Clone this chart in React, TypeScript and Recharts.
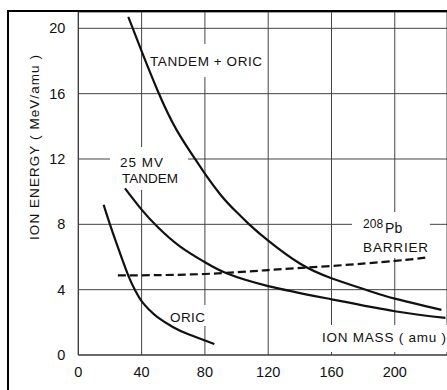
import React from 'react';
import { LineChart, Line, XAxis, YAxis, CartesianGrid, ReferenceArea } from 'recharts';

// ---- axis ticks ----
const xTicks = [0, 40, 80, 120, 160, 200];
const yTicks = [0, 4, 8, 12, 16, 20];

// ---- series (ion mass in amu, ion energy in MeV/amu) ----
const oricMass = [16, 20, 25, 31.6, 36, 40, 45, 50, 60, 70, 86];
const oricEnergy = [9.2, 8.0, 6.6, 4.86, 3.95, 3.3, 2.75, 2.32, 1.7, 1.25, 0.67];

const tandemMass = [29.5, 40, 50, 64.2, 80, 93.7, 120, 160, 200, 232];
const tandemEnergy = [10.2, 8.9, 7.85, 6.65, 5.68, 5.0, 4.22, 3.41, 2.68, 2.27];

const tandemOricMass = [31.6, 40, 50.5, 62, 74.5, 80, 90, 100, 108, 120, 140, 160, 183, 200, 229.5];
const tandemOricEnergy = [20.7, 18.6, 16.1, 13.8, 11.9, 11.1, 9.8, 8.75, 8.0, 7.0, 5.6, 4.7, 3.95, 3.45, 2.76];

const barrierMass = [25, 40, 80, 120, 160, 200, 221];
const barrierEnergy = [4.87, 4.88, 4.96, 5.2, 5.45, 5.76, 5.98];

const toPoints = (xs: number[], ys: number[]) => xs.map((x, i) => ({ mass: x, energy: ys[i] }));

const oricData = toPoints(oricMass, oricEnergy);
const tandemData = toPoints(tandemMass, tandemEnergy);
const tandemOricData = toPoints(tandemOricMass, tandemOricEnergy);
const barrierData = toPoints(barrierMass, barrierEnergy);

const FONT = '"Liberation Sans", Arial, Helvetica, sans-serif';
const INK = '#111';

type VB = { x: number; y: number; width: number; height: number };

const labelTandemOric = (p: any) => {
  const v: VB = p.viewBox;
  return (
    <text x={v.x + 4} y={v.y + 22} fontFamily={FONT} fontSize={13.5} fill={INK} textLength={112} lengthAdjust="spacing">
      TANDEM + ORIC
    </text>
  );
};

const label25MV = (p: any) => {
  const v: VB = p.viewBox;
  return (
    <g fontFamily={FONT} fontSize={13.5} fill={INK}>
      <text x={v.x + 10} y={v.y + 20} textLength={43} lengthAdjust="spacing">25 MV</text>
      <text x={v.x + 12} y={v.y + 36} textLength={56} lengthAdjust="spacing">TANDEM</text>
    </g>
  );
};

const labelBarrier = (p: any) => {
  const v: VB = p.viewBox;
  return (
    <g fontFamily={FONT} fill={INK}>
      <text x={v.x + 11} y={v.y + 16} fontSize={12}>208</text>
      <text x={v.x + 33} y={v.y + 21} fontSize={14}>Pb</text>
      <text x={v.x + 11} y={v.y + 40} fontSize={13.5} textLength={65} lengthAdjust="spacing">BARRIER</text>
    </g>
  );
};

const labelOric = (p: any) => {
  const v: VB = p.viewBox;
  return (
    <text x={v.x + 4} y={v.y + 17} fontFamily={FONT} fontSize={13.5} fill={INK} textLength={35} lengthAdjust="spacing">
      ORIC
    </text>
  );
};

const labelMass = (p: any) => {
  const v: VB = p.viewBox;
  return (
    <text x={v.x + 7} y={v.y + 17} fontFamily={FONT} fontSize={13.5} fill={INK} textLength={124} lengthAdjust="spacing">
      ION MASS ( amu )
    </text>
  );
};

const yLabel = (p: any) => {
  const v: VB = p.viewBox;
  const cx = v.x + 34;
  const cy = 147.5;
  return (
    <text
      x={cx}
      y={cy}
      transform={`rotate(-90, ${cx}, ${cy})`}
      textAnchor="middle"
      dominantBaseline="central"
      fontFamily={FONT}
      fontSize={13.5}
      fill={INK}
      textLength={185}
      lengthAdjust="spacing"
    >
      ION ENERGY ( MeV/amu )
    </text>
  );
};

export default function App() {
  return (
    <div style={{ position: 'absolute', left: 0, top: 0, width: 447, height: 390, background: '#fff' }}>
      <LineChart width={447} height={390} margin={{ top: 12, right: 0, bottom: 0, left: 0 }}>
        <CartesianGrid stroke="#444" strokeWidth={1} />
        <XAxis
          type="number"
          dataKey="mass"
          domain={[0, 233]}
          ticks={xTicks}
          allowDataOverflow
          height={35}
          tickLine={false}
          tickSize={0}
          tickMargin={12}
          axisLine={{ stroke: '#333', strokeWidth: 1 }}
          tick={{ fontSize: 14.5, fill: INK, fontFamily: FONT }}
        />
        <YAxis
          type="number"
          domain={[0, 21]}
          ticks={yTicks}
          allowDataOverflow
          width={78.3}
          tickLine={false}
          tickSize={0}
          tickMargin={13}
          axisLine={{ stroke: '#333', strokeWidth: 1 }}
          tick={{ fontSize: 14.5, fill: INK, fontFamily: FONT }}
          label={yLabel}
        />
        <ReferenceArea x1={42.8} x2={118.6} y1={17.02} y2={19.04} fill="#fff" fillOpacity={1} stroke="none" ifOverflow="visible" label={labelTandemOric} />
        <ReferenceArea x1={20} x2={69.3} y1={10.1} y2={12.73} fill="#fff" fillOpacity={1} stroke="none" ifOverflow="visible" label={label25MV} />
        <ReferenceArea x1={173} x2={222.2} y1={5.94} y2={8.76} fill="#fff" fillOpacity={1} stroke="none" ifOverflow="visible" label={labelBarrier} />
        <ReferenceArea x1={55.4} x2={83.2} y1={1.78} y2={3.06} fill="#fff" fillOpacity={1} stroke="none" ifOverflow="visible" label={labelOric} />
        <ReferenceArea x1={149.6} x2={233} y1={0.18} y2={1.84} fill="#fff" fillOpacity={1} stroke="none" ifOverflow="visible" label={labelMass} />
        <Line data={oricData} dataKey="energy" type="natural" stroke={INK} strokeWidth={2.2} dot={false} isAnimationActive={false} />
        <Line data={tandemData} dataKey="energy" type="natural" stroke={INK} strokeWidth={2.2} dot={false} isAnimationActive={false} />
        <Line data={tandemOricData} dataKey="energy" type="natural" stroke={INK} strokeWidth={2.2} dot={false} isAnimationActive={false} />
        <Line data={barrierData} dataKey="energy" type="natural" stroke={INK} strokeWidth={2.2} strokeDasharray="8 4" dot={false} isAnimationActive={false} />
      </LineChart>
      <div
        style={{
          position: 'absolute',
          left: 7,
          top: 10,
          width: 440,
          height: 380,
          borderLeft: '2.5px solid #000',
          borderTop: '2.5px solid #000',
          pointerEvents: 'none',
        }}
      />
    </div>
  );
}
